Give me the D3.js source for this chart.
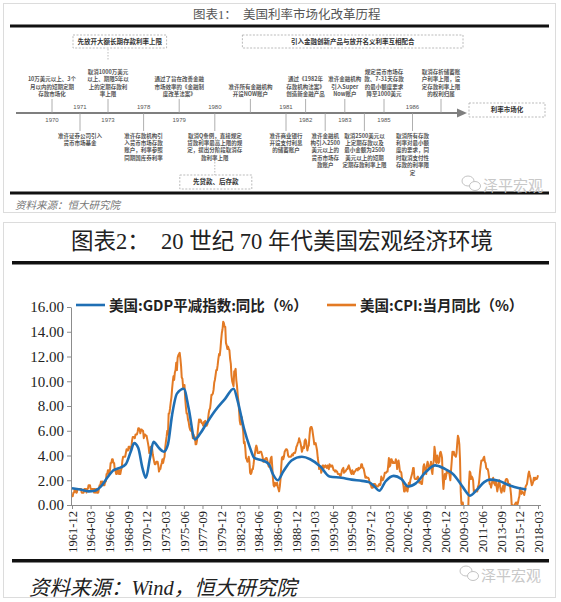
<!DOCTYPE html>
<html><head><meta charset="utf-8">
<script src="https://cdn.jsdelivr.net/npm/d3@7"></script>
<style>
html,body{margin:0;padding:0;background:#fff;}
svg{display:block;}
text{white-space:pre;}
</style></head><body>
<svg id="c" width="561" height="602"></svg>
<script>
// ================= DATA =================
// Figure 1: timeline of US interest-rate liberalisation
const chart1Title = "图表1：  美国利率市场化改革历程";
const timelineYears = [1970,1971,1973,1978,1979,1980,1980,1981,1982,1982,1983,1983,1985,1986,1986];
const timelineSides = ["up","down","up","down","up","down","up","down","up","down","up","down","up","down","up"];
const timelineTexts = [
  ["10万美元以上、3个","月以内的短期定期","存款市场化"],
  ["准许证券公司引入","货币市场基金"],
  ["取消1000万美元","以上、期限5年以","上的定期存款利","率上限"],
  ["准许存款机构引","入货币市场存款","账户，利率参照","同期国库券利率"],
  ["通过了旨在改善金融","市场效率的《金融制","度改革法案》"],
  ["取消Q条例，直接规定","贷款利率最高上限的规","定，提出分阶段取消存","款利率上限"],
  ["准许所有金融机构","开设NOW账户"],
  ["准许商业银行","开设支付利息","的储蓄账户"],
  ["通过《1982年","存款机构法案》","创造新金融产品"],
  ["准许金融机","构引入2500","美元以上的","货币市场存","款账户"],
  ["准许金融机构","引入Super","Now账户"],
  ["取消2500美元以","上定期存款以及","最小金额为2500","美元以上的短期","定期存款利率上限"],
  ["规定货币市场存","款、7-31天存款","的最小额度要求","降至1000美元"],
  ["取消所有存款","利率对最小额","度的要求，同","时取消支付性","存款的利率限","定"],
  ["取消存折储蓄账","户利率上限，设","定存款利率上限","的权利归属"]
];
const phaseLabels = ["先放开大额长期存款利率上限","引入金融创新产品与放开名义利率互相配合","先贷款、后存款","利率市场化"];
const source1 = "资料来源：恒大研究院";

// Figure 2: US macro environment
const chart2Title = "图表2：  20 世纪 70 年代美国宏观经济环境";
const seriesNames = ["美国:GDP平减指数:同比（%）","美国:CPI:当月同比（%）"];
const xTickLabels = ["1961-12","1964-03","1966-06","1968-09","1970-12","1973-03","1975-06","1977-09","1979-12",
  "1982-03","1984-06","1986-09","1988-12","1991-03","1993-06","1995-09","1997-12","2000-03","2002-06",
  "2004-09","2006-12","2009-03","2011-06","2013-09","2015-12","2018-03"];
const yTickValues = [0,2,4,6,8,10,12,14,16];
const cpiStart = "1961-12";
const cpiValues = [
  0.7,
  0.7,1.0,1.0,1.3,1.3,1.0,1.0,1.3,1.3,1.3,1.3,1.3,        // 1962
  1.3,1.0,1.0,1.0,1.0,1.3,1.3,1.3,1.0,1.3,1.3,1.6,        // 1963
  1.6,1.6,1.3,1.3,1.3,1.3,1.3,1.0,1.3,1.0,1.3,1.0,        // 1964
  1.0,1.0,1.3,1.6,1.6,1.9,1.6,1.9,1.6,1.6,1.6,1.9,        // 1965
  1.9,2.5,2.5,2.8,2.8,2.5,2.8,3.4,3.4,3.7,3.7,3.4,        // 1966
  3.4,2.8,2.8,2.5,2.5,2.8,2.8,2.5,2.8,2.5,2.8,3.0,        // 1967
  3.6,3.9,3.9,3.9,3.9,4.2,4.5,4.4,4.4,4.7,4.7,4.7,        // 1968
  4.4,4.7,5.2,5.5,5.5,5.5,5.4,5.7,5.7,5.7,5.9,6.2,        // 1969
  6.2,6.1,5.8,6.1,6.1,6.0,6.0,5.4,5.7,5.7,5.6,5.6,        // 1970
  5.3,5.0,4.7,4.2,4.4,4.7,4.4,4.6,4.1,3.8,3.5,3.3,        // 1971
  3.3,3.5,3.5,3.5,3.2,2.7,2.9,2.9,3.2,3.4,3.7,3.4,        // 1972
  3.7,3.9,4.6,5.1,5.5,6.0,5.7,7.4,7.4,7.8,8.3,8.7,        // 1973
  9.4,10.0,10.4,10.1,10.7,10.9,11.5,10.9,11.9,12.1,12.2,12.3, // 1974
  11.8,11.2,10.3,10.2,9.5,9.4,9.7,8.6,7.9,7.4,7.4,6.9,    // 1975
  6.7,6.3,6.1,6.0,6.2,5.9,5.4,5.7,5.5,5.5,4.9,4.9,        // 1976
  5.2,5.9,6.4,6.9,6.7,6.9,6.8,6.6,6.6,6.4,6.7,6.7,        // 1977
  6.8,6.4,6.4,6.5,6.9,7.4,7.7,7.8,8.3,8.9,8.9,9.0,        // 1978
  9.3,9.9,10.1,10.5,10.9,10.9,11.3,11.8,12.2,12.1,12.6,13.3, // 1979
  13.9,14.2,14.8,14.7,14.4,14.4,13.1,12.9,12.6,12.8,12.6,12.5, // 1980
  11.8,11.4,10.5,10.0,9.8,9.6,10.8,10.8,11.0,10.1,9.6,8.9, // 1981
  8.4,7.6,6.8,6.5,6.7,7.1,6.4,5.9,5.0,5.1,4.6,3.8,        // 1982
  3.7,3.5,3.6,3.9,3.5,2.6,2.5,2.6,2.9,2.9,3.3,3.8,        // 1983
  4.2,4.6,4.8,4.6,4.2,4.2,4.2,4.3,4.3,4.3,4.1,3.9,        // 1984
  3.5,3.5,3.7,3.7,3.8,3.8,3.6,3.3,3.1,3.2,3.5,3.8,        // 1985
  3.9,3.1,2.2,1.6,1.5,1.8,1.6,1.6,1.8,1.5,1.3,1.1,        // 1986
  1.5,2.1,3.0,3.8,3.9,3.7,3.9,4.3,4.4,4.5,4.5,4.4,        // 1987
  4.0,3.9,3.9,3.9,3.9,4.0,4.1,4.0,4.2,4.2,4.2,4.4,        // 1988
  4.7,4.8,5.0,5.1,5.4,5.2,5.0,4.7,4.3,4.5,4.7,4.6,        // 1989
  5.2,5.3,5.2,4.7,4.4,4.7,4.8,5.6,6.2,6.3,6.3,6.1,        // 1990
  5.7,5.3,4.9,4.9,5.0,4.7,4.4,3.8,3.4,2.9,3.0,3.1,        // 1991
  2.6,2.8,3.2,3.2,3.0,3.1,3.2,3.1,3.0,3.2,3.0,2.9,        // 1992
  3.3,3.2,3.1,3.2,3.2,3.0,2.8,2.8,2.7,2.8,2.7,2.7,        // 1993
  2.5,2.5,2.5,2.4,2.3,2.5,2.8,2.9,3.0,2.6,2.7,2.7,        // 1994
  2.8,2.9,2.9,3.1,3.2,3.0,2.8,2.6,2.5,2.8,2.6,2.5,        // 1995
  2.7,2.7,2.8,2.9,2.9,2.8,3.0,2.9,3.0,3.0,3.3,3.3,        // 1996
  3.0,3.0,2.8,2.5,2.2,2.3,2.2,2.2,2.2,2.1,1.8,1.7,        // 1997
  1.6,1.4,1.4,1.4,1.7,1.7,1.7,1.6,1.5,1.5,1.5,1.6,        // 1998
  1.7,1.6,1.7,2.3,2.1,2.0,2.1,2.3,2.6,2.6,2.6,2.7,        // 1999
  2.7,3.2,3.8,3.1,3.2,3.7,3.7,3.4,3.5,3.4,3.4,3.4,        // 2000
  3.7,3.5,2.9,3.3,3.6,3.2,2.7,2.7,2.6,2.1,1.9,1.6,        // 2001
  1.1,1.1,1.5,1.6,1.2,1.1,1.5,1.8,1.5,2.0,2.2,2.4,        // 2002
  2.6,3.0,3.0,2.2,2.1,2.1,2.1,2.2,2.3,2.0,1.8,1.9,        // 2003
  1.9,1.7,1.7,2.3,3.1,3.3,3.0,2.7,2.5,3.2,3.5,3.3,        // 2004
  3.0,3.0,3.1,3.5,2.8,2.5,3.2,3.6,4.7,4.3,3.5,3.4,        // 2005
  4.0,3.6,3.4,3.5,4.2,4.3,4.1,3.8,2.1,1.3,2.0,2.5,        // 2006
  2.1,2.4,2.8,2.6,2.7,2.7,2.4,2.0,2.8,3.5,4.3,4.1,        // 2007
  4.3,4.0,4.0,3.9,4.2,5.0,5.6,5.4,4.9,3.7,1.1,0.1,        // 2008
  0.0,0.2,-0.4,-0.7,-1.3,-1.4,-2.1,-1.5,-1.3,-0.2,1.8,2.7, // 2009
  2.6,2.1,2.3,2.2,2.0,1.1,1.2,1.1,1.1,1.2,1.1,1.5,        // 2010
  1.6,2.1,2.7,3.2,3.6,3.6,3.6,3.8,3.9,3.5,3.4,3.0,        // 2011
  2.9,2.9,2.7,2.3,1.7,1.7,1.4,1.7,2.0,2.2,1.8,1.7,        // 2012
  1.6,2.0,1.5,1.1,1.4,1.8,2.0,1.5,1.2,1.0,1.2,1.5,        // 2013
  1.6,1.1,1.5,2.0,2.1,2.1,2.0,1.7,1.7,1.7,1.3,0.8,        // 2014
  -0.1,0.0,-0.1,-0.2,0.0,0.1,0.2,0.2,0.0,0.2,0.5,0.7,     // 2015
  1.4,1.0,0.9,1.1,1.0,1.0,0.8,1.1,1.5,1.6,1.7,2.1,        // 2016
  2.5,2.7,2.4,2.2,1.9,1.6,1.7,1.9,2.2,2.0,2.2,2.1,        // 2017
  2.1,2.2,2.4                                             // 2018
];
const gdpDates = ["1961-12","1962-12","1963-12","1964-09","1965-06","1966-03","1966-12","1967-09","1968-06",
  "1969-01","1969-06","1969-12","1970-06","1970-11","1971-05","1971-10","1972-06","1973-01","1973-07",
  "1974-01","1974-08","1975-06","1976-01","1976-10","1977-06","1978-03","1979-03","1980-06","1981-06",
  "1981-12","1982-09","1983-06","1983-12","1984-12","1985-09","1986-03","1986-10","1987-06","1988-06",
  "1989-09","1990-09","1991-12","1993-01","1994-06","1995-09","1996-12","1997-10","1998-06","1999-01",
  "1999-10","2000-10","2001-09","2002-07","2003-06","2004-09","2005-10","2006-11","2007-12","2008-11",
  "2009-07","2009-12","2010-10","2011-09","2012-05","2013-06","2014-09","2015-12","2016-10"];
const gdpValues = [1.35,1.25,1.1,1.15,1.5,2.2,2.8,3.0,3.3,
  4.3,5.0,4.6,3.0,2.2,3.8,5.1,4.6,4.3,4.9,
  7.3,9.0,9.4,7.8,5.3,5.8,6.6,7.6,8.6,9.4,
  8.4,6.2,4.6,3.8,3.6,3.3,2.5,2.0,2.7,3.6,
  3.9,3.7,3.1,2.3,2.2,2.05,1.95,1.85,1.5,1.15,
  1.9,2.35,2.1,1.5,1.75,2.7,3.2,2.95,2.5,1.7,
  1.05,0.75,1.2,1.85,2.05,1.95,1.6,1.35,1.25];
const source2 = "资料来源：Wind，恒大研究院";
const watermark = "泽平宏观";

// ================= DRAW =================
const svg = d3.select("#c");
const CJK = "'Noto Sans CJK SC','Noto Sans',sans-serif";
const SERIF = "'Liberation Serif','Noto Sans CJK SC',serif";

// panel frames
svg.append("rect").attr("x",3.5).attr("y",3.5).attr("width",552).attr("height",209)
  .attr("fill","none").attr("stroke","#dcdcdc");
svg.append("rect").attr("x",3.5).attr("y",222.5).attr("width",552).attr("height",375)
  .attr("fill","none").attr("stroke","#dcdcdc");

function wmark(g, x, y){
  const w = g.append("g").attr("transform",`translate(${x},${y})`).attr("fill","none").attr("stroke","#c4c4c4").attr("stroke-width",1);
  w.append("ellipse").attr("cx",6).attr("cy",-5).attr("rx",6).attr("ry",5);
  w.append("ellipse").attr("cx",13).attr("cy",0).attr("rx",5.5).attr("ry",4.5).attr("fill","#fff");
  g.append("text").attr("x",x+21).attr("y",y+5).text(watermark)
    .attr("font-family",CJK).attr("font-size",15).attr("fill","#c8c8c8");
}

// ---------- Figure 1 ----------
const T = svg.append("g");
T.append("text").attr("x",193).attr("y",19).text(chart1Title)
  .attr("font-family",SERIF).attr("font-size",12.5).attr("fill","#555");
T.append("rect").attr("x",10).attr("y",24.5).attr("width",539).attr("height",3).attr("fill","#111");
T.append("rect").attr("x",10).attr("y",191.5).attr("width",539).attr("height",3).attr("fill","#111");
T.append("text").attr("x",15).attr("y",209).text(source1)
  .attr("font-family",CJK).attr("font-size",10.5).attr("font-style","italic").attr("fill","#777");
wmark(T, 462, 186);

const tx = d3.scaleLinear().domain([0,2,7,12,14]).range([52,108,286,384,441]);
const axisY = 113;
T.append("line").attr("x1",16).attr("x2",460).attr("y1",axisY).attr("y2",axisY)
  .attr("stroke","#7f7f7f").attr("stroke-width",2);
T.append("path").attr("d",`M457,${axisY-4.5}L467,${axisY}L457,${axisY+4.5}Z`).attr("fill","#7f7f7f");

const events = timelineYears.map((yr,i)=>({yr, side:timelineSides[i], lines:timelineTexts[i], i}));
const eg = T.selectAll("g.ev").data(events).join("g").attr("class","ev")
  .attr("transform", d=>`translate(${tx(d.i)},0)`);
eg.append("line").attr("x1",0).attr("x2",0)
  .attr("y1", d=> d.side==="up" ? 99 : axisY)
  .attr("y2", d=> d.side==="up" ? axisY : 131)
  .attr("stroke","#9a9a9a").attr("stroke-width",0.8);
eg.each(function(d){
  const n = d.lines.length;
  d3.select(this).selectAll("text.l").data(d.lines).join("text").attr("class","l")
    .attr("x",0).attr("text-anchor","middle")
    .attr("y",(s,k)=> d.side==="up" ? 96-(n-1-k)*7.4 : 137.5+k*7.4)
    .attr("font-family",CJK).attr("font-size",5.5).attr("font-weight","bold").attr("fill","#555")
    .text(s=>s);
});
eg.filter((d,i)=> i===0 || d.yr!==events[i-1].yr).append("text")
  .attr("x",0).attr("text-anchor","middle")
  .attr("y", d=> d.side==="up" ? 122 : 108.5)
  .attr("font-family","'Liberation Sans',sans-serif").attr("font-size",6).attr("fill","#555")
  .text(d=>d.yr);

function dashBox(x0,x1,y0,h,label,fs){
  T.append("rect").attr("x",x0).attr("y",y0).attr("width",x1-x0).attr("height",h)
    .attr("fill","#fff").attr("stroke","#aaa").attr("stroke-width",0.8).attr("stroke-dasharray","2,1.5");
  T.append("text").attr("x",(x0+x1)/2).attr("y",y0+h/2+2.3).attr("text-anchor","middle").text(label)
    .attr("font-family",CJK).attr("font-size",fs).attr("font-weight","bold").attr("fill","#333");
}
dashBox(tx(1)-7, tx(3)+23, 35, 13, phaseLabels[0], 6.5);
T.append("line").attr("x1",tx(2)).attr("x2",tx(2)).attr("y1",49).attr("y2",61)
  .attr("stroke","#aaa").attr("stroke-width",0.8).attr("stroke-dasharray","1.5,1.5");
dashBox(tx(6)-8, tx(14)+22, 35, 13, phaseLabels[1], 6.5);
T.append("line").attr("x1",tx(5)).attr("x2",tx(5)).attr("y1",162).attr("y2",175)
  .attr("stroke","#aaa").attr("stroke-width",0.8).attr("stroke-dasharray","1.5,1.5");
dashBox(tx(5)-35, tx(5)+37, 175, 14, phaseLabels[2], 6.5);
dashBox(469, 545, 103, 14, phaseLabels[3], 6.5);

// ---------- Figure 2 ----------
const B = svg.append("g");
B.append("text").attr("x",282).attr("y",248.5).attr("text-anchor","middle").text(chart2Title)
  .attr("font-family",SERIF).attr("font-size",22.5).attr("fill","#222");
B.append("rect").attr("x",12).attr("y",261).attr("width",537).attr("height",3.5).attr("fill","#111");
B.append("rect").attr("x",12).attr("y",559).attr("width",537).attr("height",3.5).attr("fill","#111");
B.append("text").attr("x",29).attr("y",595).text(source2)
  .attr("font-family",SERIF).attr("font-size",20.5).attr("font-style","italic").attr("fill","#222");
wmark(B, 460, 576);

const parseM = d3.timeParse("%Y-%m");
const start = parseM(cpiStart);
const cpi = cpiValues.map((v,i)=>({d:d3.timeMonth.offset(start,i), v}));
const gdp = gdpDates.map((s,i)=>({d:parseM(s), v:gdpValues[i]}));
const tickDates = xTickLabels.map(parseM);

const x = d3.scaleTime().domain([start, cpi[cpi.length-1].d]).range([72,538]);
const y = d3.scaleLinear().domain([0,16]).range([505,307]);

B.append("defs").append("clipPath").attr("id","pc").append("rect")
  .attr("x",60).attr("y",280).attr("width",490).attr("height",y(0)-280);

const yAx = B.append("g").attr("transform","translate(71,0)")
  .call(d3.axisLeft(y).tickValues(yTickValues).tickFormat(d3.format(".2f")).tickSize(4).tickSizeOuter(0).tickPadding(3));
yAx.select(".domain").attr("stroke","#8c8c8c");
yAx.selectAll(".tick line").attr("stroke","#8c8c8c");
yAx.selectAll(".tick text").attr("font-family",SERIF).attr("font-size",15).attr("fill","#222");

const xAx = B.append("g").attr("transform",`translate(0,${y(0)})`)
  .call(d3.axisBottom(x).tickValues(tickDates).tickFormat((d,i)=>xTickLabels[i]).tickSize(4).tickSizeOuter(0));
xAx.select(".domain").attr("d",`M71,0.5H541`).attr("stroke","#8c8c8c");
xAx.selectAll(".tick line").attr("stroke","#8c8c8c");
xAx.selectAll(".tick text").attr("font-family",SERIF).attr("font-size",12.5).attr("fill","#222")
  .attr("transform","rotate(-90)").attr("text-anchor","end").attr("x",-6).attr("y",0).attr("dy","0.35em");

const line = d3.line().x(d=>x(d.d)).y(d=>y(d.v));
const colors = ["#1f6fb4","#e37a24"];
const plot = B.append("g").attr("clip-path","url(#pc)");
plot.append("path").datum(cpi).attr("d",line.curve(d3.curveLinear))
  .attr("fill","none").attr("stroke",colors[1]).attr("stroke-width",2).attr("stroke-linejoin","round");
plot.append("path").datum(gdp).attr("d",d3.line().x(d=>x(d.d)).y(d=>y(d.v)).curve(d3.curveMonotoneX))
  .attr("fill","none").attr("stroke",colors[0]).attr("stroke-width",2.6);

// legend
const legX = [76, 327];
seriesNames.forEach((name,i)=>{
  B.append("line").attr("x1",legX[i]).attr("x2",legX[i]+29).attr("y1",305).attr("y2",305)
    .attr("stroke",colors[i]).attr("stroke-width",2.6);
  B.append("text").attr("x",legX[i]+33).attr("y",310.5).text(name)
    .attr("font-family",CJK).attr("font-size",14.5).attr("font-weight","bold").attr("fill","#222");
});
</script>
</body></html>
